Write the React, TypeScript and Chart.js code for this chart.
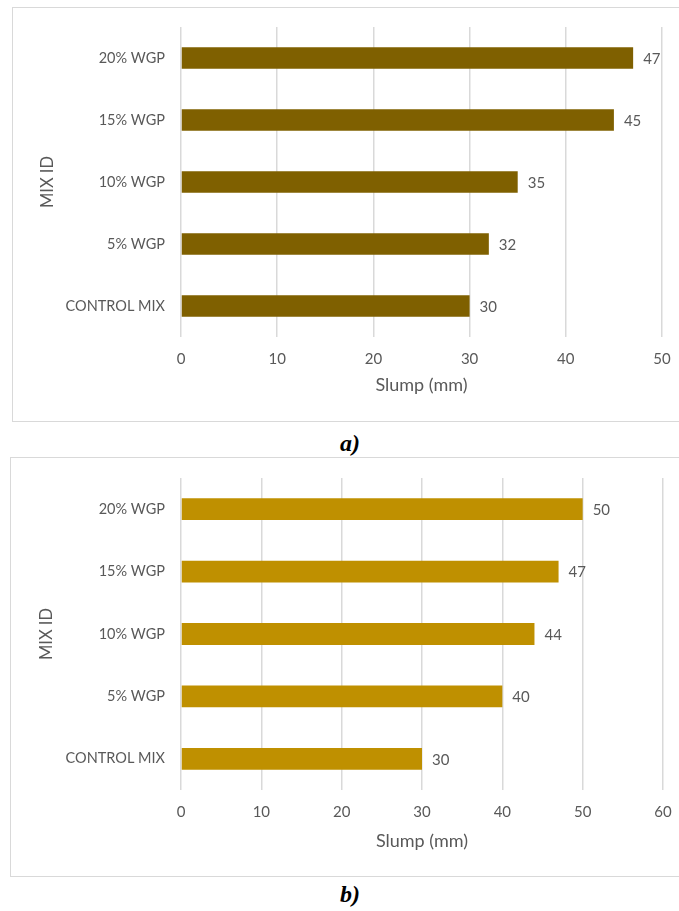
import React, { useEffect, useRef } from "react";
import { Chart, registerables } from "chart.js";

Chart.register(...registerables);

// Mix identifiers, bottom to top
const mixIds = ["CONTROL MIX", "5% WGP", "10% WGP", "15% WGP", "20% WGP"];
// Slump values (mm) for each panel
const slumpA = [30, 32, 35, 45, 47];
const slumpB = [30, 40, 44, 47, 50];
// Axis limits for each panel
const axisMaxA = 50;
const axisMaxB = 60;
const tickStep = 10;

const TEXT = "#595959";
const GRID = "#D9D9D9";
const FONT = "Lato, 'Open Sans', sans-serif";

const valueLabels = {
  id: "valueLabels",
  afterDatasetsDraw(chart: any) {
    const ctx = chart.ctx;
    const meta = chart.getDatasetMeta(0);
    const data = chart.data.datasets[0].data;
    ctx.save();
    ctx.fillStyle = TEXT;
    ctx.font = `15px ${FONT}`;
    ctx.textAlign = "left";
    ctx.textBaseline = "middle";
    meta.data.forEach((bar: any, i: number) => {
      ctx.fillText(String(data[i]), bar.x + 10, bar.y + 1);
    });
    ctx.restore();
  },
};

type PanelProps = {
  values: number[];
  color: string;
  max: number;
  width: number;
  height: number;
  pad: { left: number; right: number; top: number; bottom: number };
  yAxisWidth: number;
  xAxisHeight: number;
};

function SlumpPanel({ values, color, max, width, height, pad, yAxisWidth, xAxisHeight }: PanelProps) {
  const ref = useRef<HTMLCanvasElement | null>(null);
  useEffect(() => {
    if (!ref.current) return;
    const chart = new Chart(ref.current, {
      type: "bar",
      data: {
        labels: mixIds,
        datasets: [
          {
            data: values,
            backgroundColor: color,
            borderWidth: 0,
            categoryPercentage: 1,
            barPercentage: 0.35,
          },
        ],
      },
      options: {
        indexAxis: "y",
        animation: false,
        responsive: false,
        maintainAspectRatio: false,
        layout: { padding: pad },
        plugins: {
          legend: { display: false },
          tooltip: { enabled: false },
        },
        scales: {
          x: {
            min: 0,
            max,
            ticks: {
              stepSize: tickStep,
              color: TEXT,
              font: { family: FONT, size: 15 },
              padding: 13,
            },
            grid: { color: GRID, lineWidth: 1.5, drawTicks: false },
            border: { display: false },
            title: {
              display: true,
              text: "Slump (mm)",
              color: TEXT,
              font: { family: FONT, size: 18 },
              padding: 0,
            },
            afterFit(scale: any) {
              scale.height = xAxisHeight;
              // keep the plot edges where the layout padding puts them
              scale.paddingLeft = 0;
              scale.paddingRight = 0;
            },
          },
          y: {
            reverse: true,
            ticks: {
              color: TEXT,
              font: { family: FONT, size: 14.5 },
              padding: 16,
            },
            grid: { display: false, drawTicks: false },
            border: { display: false },
            title: {
              display: true,
              text: "MIX ID",
              color: TEXT,
              font: { family: FONT, size: 16.5 },
              padding: 0,
            },
            afterFit(scale: any) {
              scale.width = yAxisWidth;
              scale.paddingTop = 0;
              scale.paddingBottom = 0;
            },
          },
        },
      },
      plugins: [valueLabels],
    });
    return () => chart.destroy();
  }, []);
  return <canvas ref={ref} width={width} height={height} style={{ display: "block" }} />;
}

const boxStyle: React.CSSProperties = {
  position: "absolute",
  border: "1.5px solid #D9D9D9",
  borderRight: "none",
  boxSizing: "border-box",
  background: "#fff",
};

const captionStyle: React.CSSProperties = {
  position: "absolute",
  width: 100,
  textAlign: "center",
  fontFamily: "'Liberation Serif', 'Times New Roman', serif",
  fontWeight: "bold",
  fontStyle: "italic",
  fontSize: 24,
  lineHeight: "26px",
  color: "#000",
};

export default function App() {
  return (
    <div
      style={{
        position: "absolute",
        left: 0,
        top: 0,
        width: 679,
        height: 911,
        overflow: "hidden",
        background: "#fff",
      }}
    >
      <div style={{ ...boxStyle, left: 12, top: 7, width: 680, height: 415 }}>
        <div style={{ position: "absolute", left: -1.5, top: -1.5 }}>
          <SlumpPanel
            values={slumpA}
            color="#7F6000"
            max={axisMaxA}
            width={667}
            height={415}
            pad={{ left: 26, right: 17, top: 20, bottom: 26 }}
            yAxisWidth={143}
            xAxisHeight={59}
          />
        </div>
      </div>
      <div style={{ ...captionStyle, left: 300, top: 430 }}>a)</div>

      <div style={{ ...boxStyle, left: 10, top: 457, width: 680, height: 420 }}>
        <div style={{ position: "absolute", left: -1.5, top: -1.5 }}>
          <SlumpPanel
            values={slumpB}
            color="#BF9000"
            max={axisMaxB}
            width={669}
            height={420}
            pad={{ left: 27, right: 16, top: 21, bottom: 25 }}
            yAxisWidth={144}
            xAxisHeight={62}
          />
        </div>
      </div>
      <div style={{ ...captionStyle, left: 300, top: 881 }}>b)</div>
    </div>
  );
}
